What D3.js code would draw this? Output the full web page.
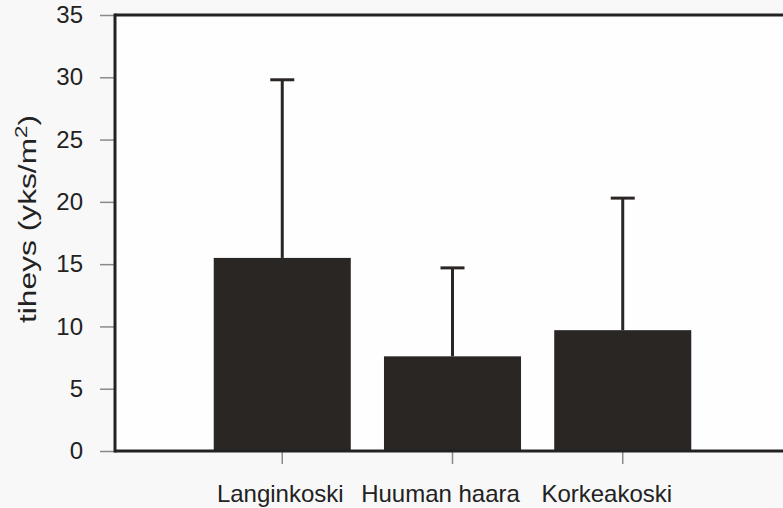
<!DOCTYPE html>
<html>
<head>
<meta charset="utf-8">
<script src="https://cdn.jsdelivr.net/npm/d3@7"></script>
<style>
  html, body { margin: 0; padding: 0; background: #f8f8f8; }
  svg { display: block; }
  text { font-family: "Liberation Sans", Arial, sans-serif; fill: #222; }
</style>
</head>
<body>
<svg id="chart" width="783" height="508"></svg>
<script>
const categories = ["Langinkoski", "Huuman haara", "Korkeakoski"];
const means = [15.5, 7.6, 9.7];
const errorTops = [29.8, 14.7, 20.3];
const yTicks = [0, 5, 10, 15, 20, 25, 30, 35];

const W = 783, H = 508;
const svg = d3.select("#chart");
const FONT = "'Liberation Sans', Arial, sans-serif";

const x = d3.scaleBand().domain(categories).range([115, 790]).paddingInner(0.195).paddingOuter(0.58);
const y = d3.scaleLinear().domain([0, 35]).range([451, 15]);

// plot background
svg.append("rect").attr("x", 115).attr("y", 15).attr("width", W - 115).attr("height", 436).attr("fill", "#fefefe");

// bars
svg.selectAll("rect.bar").data(categories).join("rect")
  .attr("class", "bar")
  .attr("x", d => x(d))
  .attr("width", x.bandwidth())
  .attr("y", (d, i) => y(means[i]))
  .attr("height", (d, i) => y(0) - y(means[i]))
  .attr("fill", "#2a2624");

// error bars
const eg = svg.append("g").attr("stroke", "#2a2624").attr("stroke-width", 3);
categories.forEach((c, i) => {
  const cx = x(c) + x.bandwidth() / 2;
  eg.append("line").attr("x1", cx).attr("x2", cx).attr("y1", y(means[i])).attr("y2", y(errorTops[i]));
  eg.append("line").attr("x1", cx - 12).attr("x2", cx + 12).attr("y1", y(errorTops[i])).attr("y2", y(errorTops[i]));
});

// y axis
const yAxis = svg.append("g").attr("transform", "translate(115,0)")
  .call(d3.axisLeft(y).tickValues(yTicks).tickSize(15).tickPadding(17).tickFormat(d3.format("d")));
yAxis.select(".domain").remove();
yAxis.selectAll(".tick line").attr("stroke", "#8a8a8a").attr("stroke-width", 1.5);
yAxis.selectAll(".tick text").attr("font-size", 24).style("font-family", FONT).attr("fill", "#2a2a2a");

// x axis
const xAxis = svg.append("g").attr("transform", "translate(0,451)")
  .call(d3.axisBottom(x).tickSize(13).tickPadding(21));
xAxis.select(".domain").remove();
xAxis.selectAll(".tick line").attr("stroke", "#8a8a8a").attr("stroke-width", 1.5);
const labelShift = [-2, -12, -16];
xAxis.selectAll(".tick text").attr("font-size", 24).style("font-family", FONT).attr("fill", "#2a2a2a")
  .attr("dx", (d, i) => labelShift[i]);

// frame lines
const fr = svg.append("g").attr("stroke", "#222").attr("stroke-width", 3).attr("fill", "none");
fr.append("line").attr("x1", 115).attr("x2", W).attr("y1", 15).attr("y2", 15);
fr.append("line").attr("x1", 115).attr("x2", W).attr("y1", 451).attr("y2", 451);
fr.append("line").attr("x1", 115).attr("x2", 115).attr("y1", 13.5).attr("y2", 452.5);

// y label
const yl = svg.append("text")
  .attr("transform", "translate(36,219) rotate(-90)")
  .attr("text-anchor", "middle")
  .attr("fill", "#2a2a2a")
  .attr("font-size", 23)
  .attr("textLength", 208)
  .attr("lengthAdjust", "spacingAndGlyphs");
yl.append("tspan").text("tiheys (yks/m");
yl.append("tspan").attr("dy", -9).attr("font-size", 16).text("2");
yl.append("tspan").attr("dy", 9).text(")");
</script>
</body>
</html>
